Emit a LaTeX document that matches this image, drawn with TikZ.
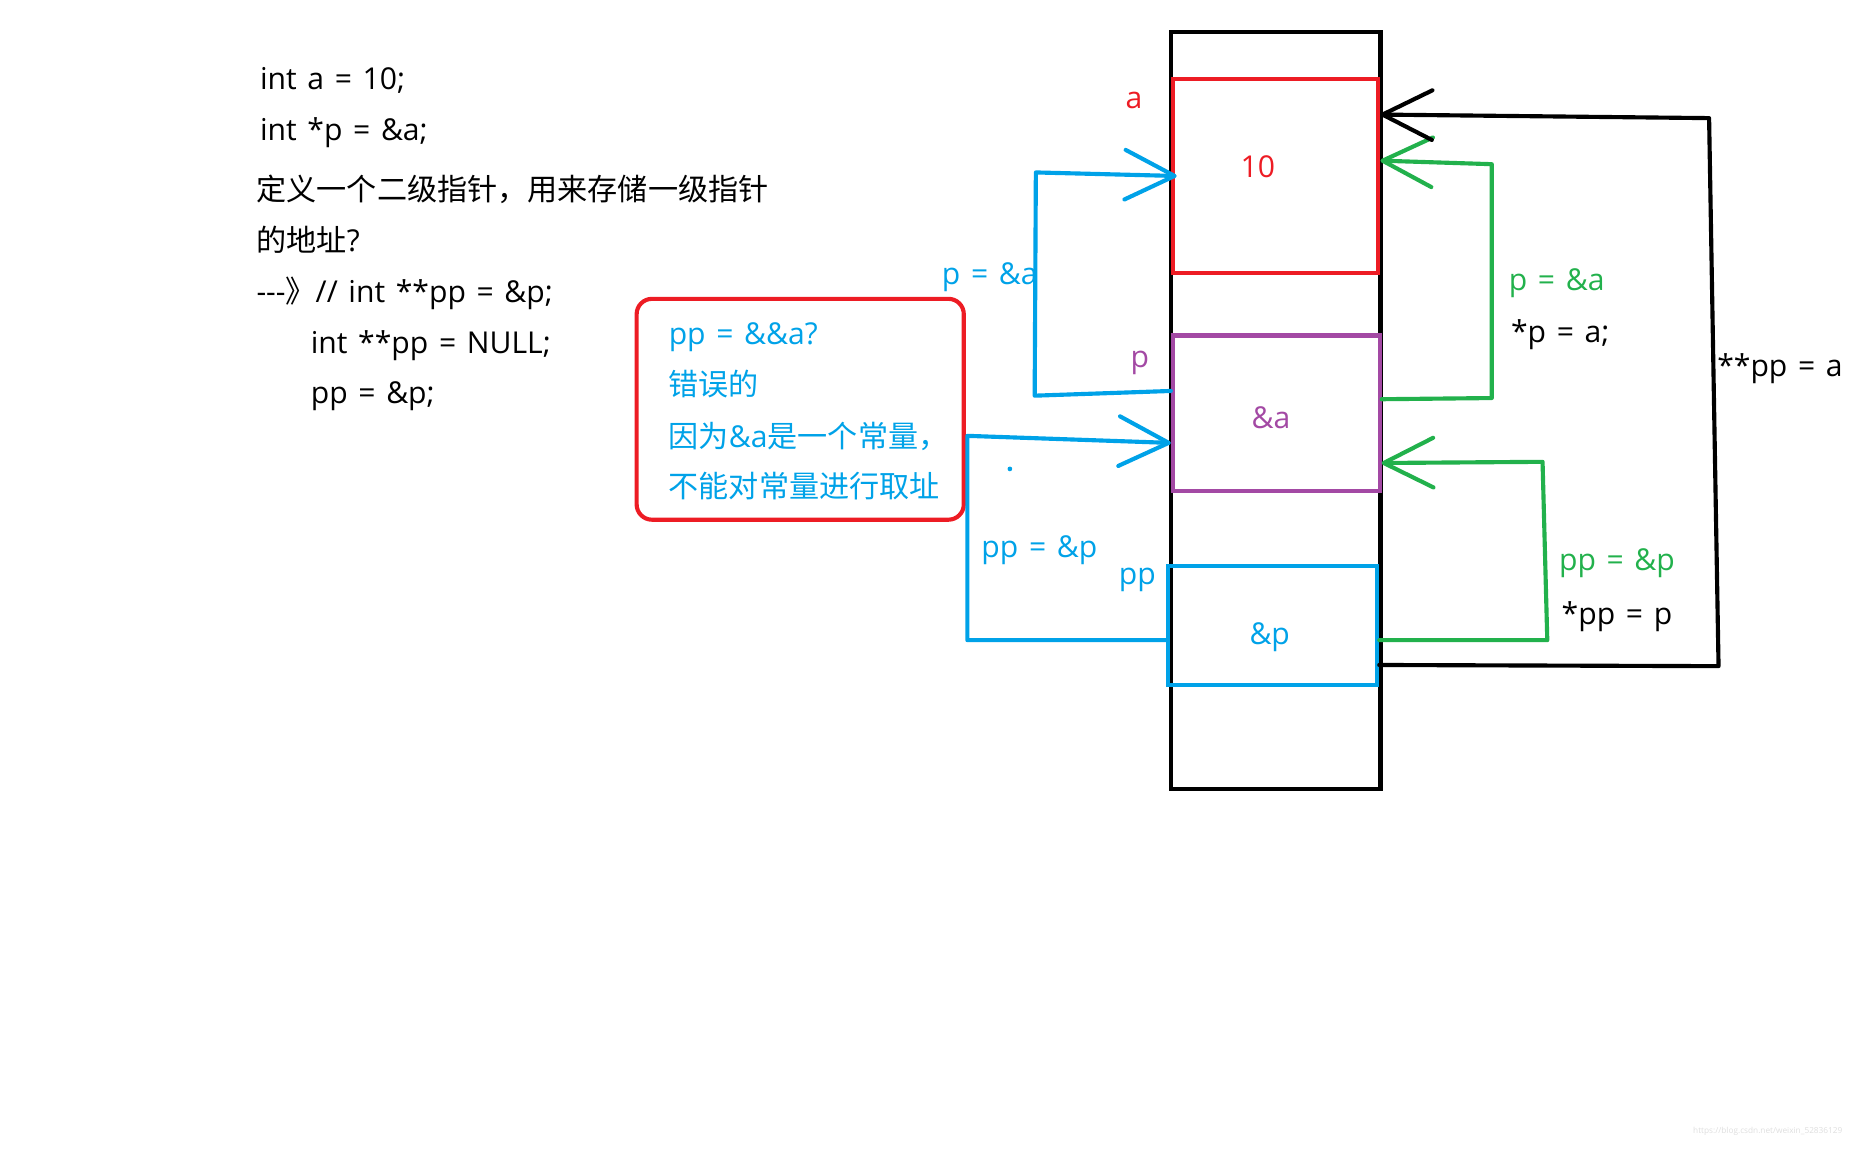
\documentclass[tikz,border=0pt]{standalone}
\usepackage{fontspec}
\setmainfont{Open Sans}
\newfontfamily\cjk{Noto Sans CJK SC}
\usetikzlibrary{arrows.meta}
\definecolor{mred}{HTML}{ED1C24}
\definecolor{mpurple}{HTML}{A349A4}
\definecolor{mblue}{HTML}{00A2E8}
\definecolor{mgreen}{HTML}{22B14C}
\newcommand{\mywidesp}{\spaceskip=9pt plus 2pt minus 1pt\relax}
\begin{document}
\begin{tikzpicture}[x=1pt,y=-1pt,
  txt/.style={inner sep=0pt, font=\fontsize{25.5pt}{30pt}\selectfont\mywidesp},
  cell/.style={draw, line width=3.5pt, inner sep=0pt},
  conn/.style={line width=3.5pt, line cap=round, line join=round,
    -{Straight Barb[length=42pt,width=42pt,round]}},
]
\useasboundingbox (0,0) rectangle (1568,972);

% memory column
\node[draw, line width=3.5pt, minimum width=177pt, minimum height=641pt, inner sep=0pt,
  anchor=north west] (mem) at (990,25) {};
\node[cell, draw=mred, minimum width=174pt, minimum height=164pt] (boxA) at (1080,149) {};
\node[cell, draw=mpurple, minimum width=175pt, minimum height=132pt] (boxP) at (1080.5,350) {};
\node[cell, draw=mblue, minimum width=177pt, minimum height=101pt] (boxPP) at (1077.5,529.5) {};
\node[txt, text=mred, anchor=base] (ten) at (1065,150) {10};
\node[txt, text=mpurple, anchor=base] (va) at (1076,363) {\&a};
\node[txt, text=mblue, anchor=base] (vp) at (1075,546) {\&p};

% variable names
\node[txt, text=mred, anchor=base] (la) at (960,92) {a};
\node[txt, text=mpurple, anchor=base] (lp) at (965,311) {p};
\node[txt, text=mblue, anchor=base] (lpp) at (963,495) {pp};

% left code text
\node[txt, anchor=base west] (c1) at (220,76) {int a = 10;};
\node[txt, anchor=base west] (c2) at (220,119) {int *p = \&a;};
\node[txt, anchor=base west] (c3) at (217,170) {\cjk 定义一个二级指针，用来存储一级指针};
\node[txt, anchor=base west] (c4) at (217,213) {{\cjk 的地址}?};
\node[txt, anchor=base west] (c5) at (217,256) {\mbox{-}\mbox{-}\mbox{-}{\cjk 》}// int **pp = \&p;};
\node[txt, anchor=base west] (c6) at (263,299) {int **pp = NULL;};
\node[txt, anchor=base west] (c7) at (263,342) {pp = \&p;};

% note box
\node[draw=mred, line width=3.5pt, rounded corners=13pt, minimum width=277pt,
  minimum height=187pt, inner sep=0pt] (note) at (677.5,346.5) {};
\node[txt, text=mblue, anchor=base west] (n1) at (566,292) {pp = \&\&a?};
\node[txt, text=mblue, anchor=base west] (n2) at (566,335) {\cjk 错误的};
\node[txt, text=mblue, anchor=base west] (n3) at (566,379) {{\cjk 因为}\&a{\cjk 是一个常量，}};
\node[txt, text=mblue, anchor=base west] (n4) at (566,421) {\cjk 不能对常量进行取址};

% blue connectors
\draw[conn, mblue] ([yshift=19pt]boxP.west) -- (876,335) -- (877,146) -- ([xshift=5pt]boxA.west);
\draw[conn, mblue] ([yshift=-12.5pt]boxPP.west) -- (819,542) -- (819,369) -- ([yshift=-25pt]boxP.west);
\fill[mblue] (855,397) circle (2pt);
\node[txt, text=mblue, anchor=base] (l1) at (838,241) {p = \&a};
\node[txt, text=mblue, anchor=base] (l2) at (880,472) {pp = \&p};

% green connectors
\draw[conn, mgreen] ([yshift=12pt]boxP.east) -- (1263,337) -- (1263,139) -- ([yshift=13pt]boxA.east);
\draw[conn, mgreen] ([yshift=-12.5pt]boxPP.east) -- (1310,542) -- (1306,391) -- ([yshift=-42pt]boxP.east);
\node[txt, text=mgreen, anchor=base] (g1) at (1318,246) {p = \&a};
\node[txt, anchor=base] (g2) at (1321,290) {*p = a;};
\node[txt, text=mgreen, anchor=base] (g3) at (1369,483) {pp = \&p};
\node[txt, anchor=base] (g4) at (1369,529) {*pp = p};

% black connector
\draw[conn, black] ([yshift=-33.5pt]boxPP.east) -- (1455,564) -- (1447,100) -- ([yshift=52pt]boxA.east);
\node[txt, anchor=base] (k1) at (1507,319) {**pp = a};

% watermark
\node[inner sep=0pt, anchor=base east, text=black!13, font=\fontsize{7pt}{8pt}\selectfont] (wm) at (1560,960) {https://blog.csdn.net/weixin\_52836129};
\end{tikzpicture}
\end{document}
